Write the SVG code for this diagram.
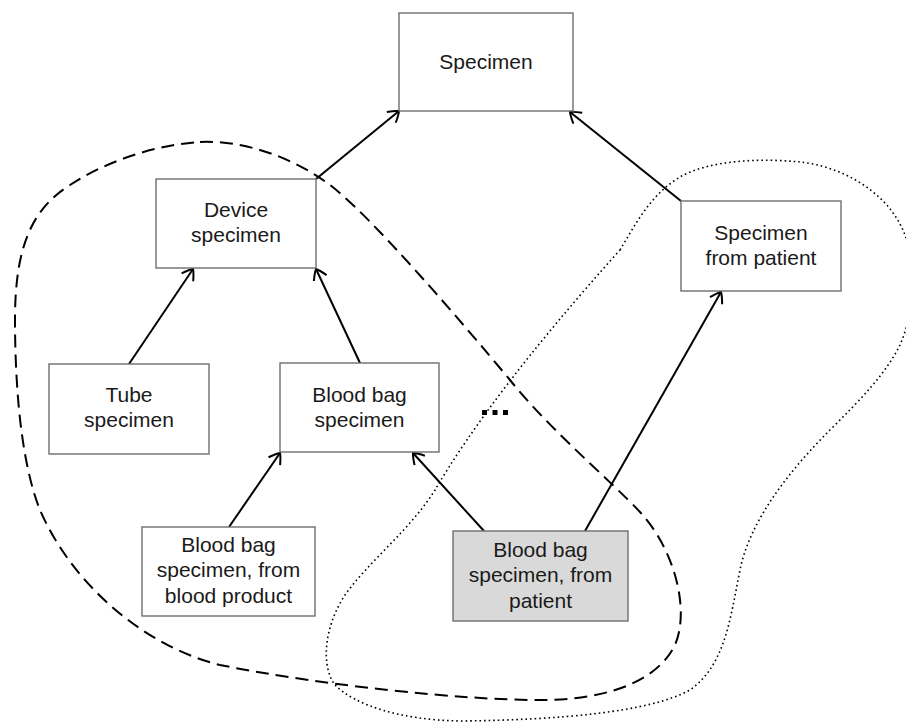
<svg xmlns="http://www.w3.org/2000/svg" width="906" height="723" viewBox="0 0 906 723">
<style>
.box{fill:#fff;stroke:#6e6e6e;stroke-width:1.4}
.gray{fill:#d9d9d9}
.lbl{font-family:"Liberation Sans",Arial,sans-serif;font-size:21px;fill:#1a1a1a;text-anchor:middle}
.edge{fill:none;stroke:#000;stroke-width:2;marker-end:url(#arr)}
.dash{fill:none;stroke:#000;stroke-width:2;stroke-dasharray:13 7}
.dot{fill:none;stroke:#000;stroke-width:1.6;stroke-dasharray:1.6 3;stroke-linecap:butt}
</style>
<defs>
<marker id="arr" viewBox="-12 -9 14 18" markerWidth="14" markerHeight="18" refX="0" refY="0" orient="auto" markerUnits="userSpaceOnUse">
<path d="M-10,-7 Q-3,-3 0,0 Q-3,3 -10,7" fill="none" stroke="#000" stroke-width="2"/>
</marker>
</defs>
<rect width="906" height="723" fill="#fff"/>
<g id="regions">
<path class="dash" d="M200,142 C240,140 290,155 330,185 C370,215 460,320 510,380 C550,430 610,480 640,512 C675,550 690,610 675,645 C655,685 600,700 540,700 C460,700 320,685 220,665 C140,645 70,580 40,510 C20,460 15,380 15,320 C15,250 30,210 70,185 C100,165 150,145 200,142 Z"/>
<path class="dot" d="M620,250 C635,225 650,195 680,177 C710,160 760,158 800,162 C840,166 885,190 903,230 C918,265 915,310 900,345 C885,375 860,400 830,430 C790,470 750,520 740,570 C730,620 725,665 690,690 C650,712 560,720 460,721 C400,720 355,705 335,685 C320,665 325,625 345,595 C370,560 410,530 435,490 C470,430 530,350 620,250 Z"/>
</g>
<g id="connectors">
<line class="edge" x1="316" y1="179" x2="399" y2="111"/>
<line class="edge" x1="681" y1="201" x2="570" y2="112"/>
<line class="edge" x1="129" y1="364" x2="193" y2="269"/>
<line class="edge" x1="360" y1="363" x2="316" y2="269"/>
<line class="edge" x1="229" y1="527" x2="280" y2="453"/>
<line class="edge" x1="484" y1="531" x2="413" y2="453"/>
<line class="edge" x1="585" y1="531" x2="721" y2="292"/>
</g>
<g id="specimen">
<rect class="box" x="399" y="13" width="174" height="98"/>
<text class="lbl" x="486" y="69">Specimen</text>
</g>
<g id="device-specimen">
<rect class="box" x="156" y="179" width="160" height="89"/>
<text class="lbl" x="236" y="217">Device</text>
<text class="lbl" x="236" y="242">specimen</text>
</g>
<g id="specimen-from-patient">
<rect class="box" x="681" y="201" width="160" height="90"/>
<text class="lbl" x="761" y="240">Specimen</text>
<text class="lbl" x="761" y="265">from patient</text>
</g>
<g id="tube-specimen">
<rect class="box" x="49" y="364" width="160" height="90"/>
<text class="lbl" x="129" y="402">Tube</text>
<text class="lbl" x="129" y="427">specimen</text>
</g>
<g id="blood-bag-specimen">
<rect class="box" x="280" y="363" width="159" height="89"/>
<text class="lbl" x="359.5" y="402">Blood bag</text>
<text class="lbl" x="359.5" y="427">specimen</text>
</g>
<g id="blood-bag-from-product">
<rect class="box" x="142" y="527" width="173" height="89"/>
<text class="lbl" x="228.5" y="552">Blood bag</text>
<text class="lbl" x="228.5" y="577">specimen, from</text>
<text class="lbl" x="228.5" y="603">blood product</text>
</g>
<g id="blood-bag-from-patient">
<rect class="box gray" x="453" y="531" width="175" height="90"/>
<text class="lbl" x="540.5" y="557">Blood bag</text>
<text class="lbl" x="540.5" y="582">specimen, from</text>
<text class="lbl" x="540.5" y="608">patient</text>
</g>
<g id="ellipsis">
<rect x="482" y="410" width="5" height="5" fill="#000"/>
<rect x="492.5" y="410" width="5" height="5" fill="#000"/>
<rect x="503" y="410" width="5" height="5" fill="#000"/>
</g>
</svg>
